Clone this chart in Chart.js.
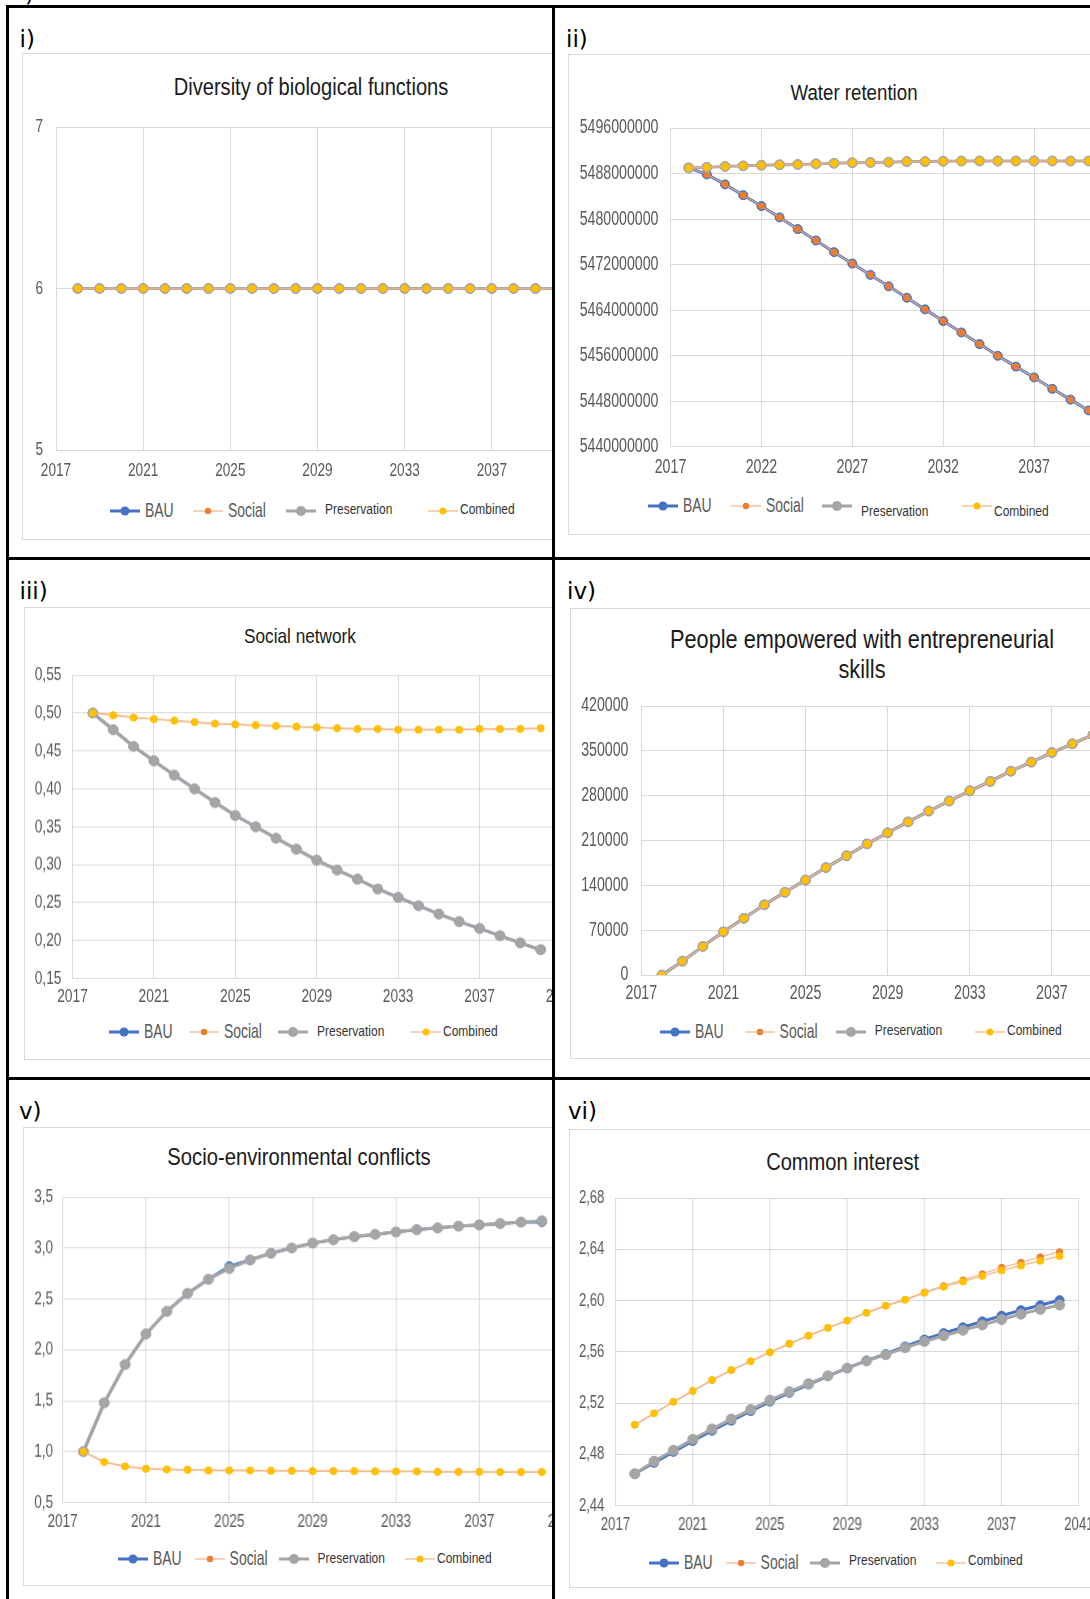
<!DOCTYPE html>
<html>
<head>
<meta charset="utf-8">
<script src="https://cdn.jsdelivr.net/npm/chart.js@4.4.0/dist/chart.umd.min.js"></script>
<style>
html, body { margin: 0; padding: 0; background: #fff; }
body { width: 1090px; height: 1599px; overflow: hidden; position: relative; }
#frame { position: absolute; left: 6px; top: 5px; width: 1200px; height: 1700px; background: #000; }
.cell { position: absolute; background: #fff; overflow: hidden; }
.box { position: absolute; border: 1px solid #d9d9d9; background: #fff; box-sizing: border-box; }
.lab { position: absolute; font-family: "DejaVu Sans", sans-serif; font-size: 23px; line-height: 23px; color: #000; white-space: nowrap; }
.ttl { position: absolute; white-space: nowrap; color: #1a1a1a; text-align: center; width: 1000px; }
.cw { position: absolute; }
.lg { position: absolute; white-space: nowrap; }
</style>
</head>
<body>
<div class="lab" style="left:25px;top:-17.5px;">)</div>
<div id="frame"></div>
<script>
var years = [2018, 2019, 2020, 2021, 2022, 2023, 2024, 2025, 2026, 2027, 2028, 2029,
             2030, 2031, 2032, 2033, 2034, 2035, 2036, 2037, 2038, 2039, 2040];
var seriesNames = ["BAU", "Social", "Preservation", "Combined"];

// i) Diversity of biological functions
var divBau    = [6, 6, 6, 6, 6, 6, 6, 6, 6, 6, 6, 6, 6, 6, 6, 6, 6, 6, 6, 6, 6, 6, 6];
var divSocial = [6, 6, 6, 6, 6, 6, 6, 6, 6, 6, 6, 6, 6, 6, 6, 6, 6, 6, 6, 6, 6, 6, 6];
var divPres   = [6, 6, 6, 6, 6, 6, 6, 6, 6, 6, 6, 6, 6, 6, 6, 6, 6, 6, 6, 6, 6, 6, 6];
var divComb   = [6, 6, 6, 6, 6, 6, 6, 6, 6, 6, 6, 6, 6, 6, 6, 6, 6, 6, 6, 6, 6, 6, 6];

// ii) Water retention
var waterBau = [5489000000, 5487850000, 5486100000, 5484200000, 5482300000, 5480300000, 5478250000,
  5476250000, 5474200000, 5472200000, 5470200000, 5468200000, 5466200000, 5464150000, 5462100000,
  5460100000, 5458050000, 5456000000, 5454100000, 5452200000, 5450200000, 5448300000, 5446400000];
var waterSocial = [5489000000, 5487850000, 5486100000, 5484200000, 5482300000, 5480300000, 5478250000,
  5476250000, 5474200000, 5472200000, 5470200000, 5468200000, 5466200000, 5464150000, 5462100000,
  5460100000, 5458050000, 5456000000, 5454100000, 5452200000, 5450200000, 5448300000, 5446400000];
var waterPres = [5489000000, 5489100000, 5489250000, 5489350000, 5489450000, 5489550000, 5489600000,
  5489700000, 5489800000, 5489900000, 5489950000, 5490000000, 5490100000, 5490100000, 5490150000,
  5490200000, 5490200000, 5490200000, 5490200000, 5490200000, 5490200000, 5490200000, 5490200000];
var waterComb = [5489000000, 5489100000, 5489250000, 5489350000, 5489450000, 5489550000, 5489600000,
  5489700000, 5489800000, 5489900000, 5489950000, 5490000000, 5490100000, 5490100000, 5490150000,
  5490200000, 5490200000, 5490200000, 5490200000, 5490200000, 5490200000, 5490200000, 5490200000];

// iii) Social network
var netBau    = [0.500, 0.478, 0.456, 0.437, 0.418, 0.400, 0.382, 0.365, 0.350, 0.335, 0.3205, 0.306,
                 0.293, 0.281, 0.268, 0.257, 0.246, 0.235, 0.225, 0.216, 0.2065, 0.197, 0.188];
var netSocial = [0.500, 0.497, 0.494, 0.492, 0.490, 0.488, 0.486, 0.485, 0.484, 0.483, 0.482, 0.481,
                 0.480, 0.479, 0.479, 0.478, 0.478, 0.478, 0.478, 0.479, 0.479, 0.479, 0.480];
var netPres   = [0.500, 0.478, 0.456, 0.437, 0.418, 0.400, 0.382, 0.365, 0.350, 0.335, 0.3205, 0.306,
                 0.293, 0.281, 0.268, 0.257, 0.246, 0.235, 0.225, 0.216, 0.2065, 0.197, 0.188];
var netComb   = [0.500, 0.497, 0.494, 0.492, 0.490, 0.488, 0.486, 0.485, 0.484, 0.483, 0.482, 0.481,
                 0.480, 0.479, 0.479, 0.478, 0.478, 0.478, 0.478, 0.479, 0.479, 0.479, 0.480];

// iv) People empowered with entrepreneurial skills
var empBau    = [0, 21700, 44800, 67500, 88600, 109700, 129200, 148300, 167800, 186200, 204800, 222100,
                 239100, 256000, 271700, 287600, 302300, 318200, 332400, 347300, 361000, 375000, 388000];
var empSocial = [0, 21700, 44800, 67500, 88600, 109700, 129200, 148300, 167800, 186200, 204800, 222100,
                 239100, 256000, 271700, 287600, 302300, 318200, 332400, 347300, 361000, 375000, 388000];
var empPres   = [0, 21700, 44800, 67500, 88600, 109700, 129200, 148300, 167800, 186200, 204800, 222100,
                 239100, 256000, 271700, 287600, 302300, 318200, 332400, 347300, 361000, 375000, 388000];
var empComb   = [0, 21700, 44800, 67500, 88600, 109700, 129200, 148300, 167800, 186200, 204800, 222100,
                 239100, 256000, 271700, 287600, 302300, 318200, 332400, 347300, 361000, 375000, 388000];

// v) Socio-environmental conflicts
var confBau    = [1.0, 1.48, 1.855, 2.155, 2.377, 2.554, 2.692, 2.82, 2.882, 2.948, 3.0, 3.048,
                  3.081, 3.111, 3.134, 3.157, 3.18, 3.197, 3.214, 3.227, 3.24, 3.254, 3.255];
var confSocial = [1.0, 0.898, 0.855, 0.832, 0.825, 0.822, 0.815, 0.815, 0.815, 0.812, 0.812, 0.809,
                  0.809, 0.809, 0.806, 0.806, 0.806, 0.802, 0.802, 0.802, 0.8, 0.8, 0.8];
var confPres   = [1.0, 1.48, 1.855, 2.155, 2.377, 2.554, 2.692, 2.799, 2.882, 2.948, 3.0, 3.048,
                  3.081, 3.111, 3.134, 3.157, 3.18, 3.197, 3.214, 3.227, 3.24, 3.254, 3.267];
var confComb   = [1.0, 0.898, 0.855, 0.832, 0.825, 0.822, 0.815, 0.815, 0.815, 0.812, 0.812, 0.809,
                  0.809, 0.809, 0.806, 0.806, 0.806, 0.802, 0.802, 0.802, 0.8, 0.8, 0.8];

// vi) Common interest
var intBau    = [2.4649, 2.4735, 2.482, 2.4905, 2.4985, 2.5063, 2.5138, 2.5212, 2.528, 2.5345, 2.541, 2.5473,
                 2.5532, 2.5584, 2.5642, 2.5696, 2.5746, 2.5792, 2.5838, 2.5882, 2.5925, 2.5963, 2.6003];
var intSocial = [2.5031, 2.512, 2.521, 2.5295, 2.538, 2.5458, 2.5526, 2.5597, 2.5663, 2.5726, 2.5787, 2.5844,
                 2.5905, 2.596, 2.6007, 2.6065, 2.6115, 2.616, 2.6208, 2.6258, 2.6298, 2.634, 2.638];
var intPres   = [2.4649, 2.4747, 2.4833, 2.4918, 2.4999, 2.5076, 2.515, 2.5223, 2.5289, 2.5352, 2.5413, 2.5473,
                 2.5529, 2.5578, 2.5632, 2.5681, 2.5726, 2.5768, 2.581, 2.5852, 2.5894, 2.5931, 2.5965];
var intComb   = [2.5031, 2.512, 2.521, 2.5295, 2.538, 2.5458, 2.5526, 2.5597, 2.5663, 2.5726, 2.5787, 2.5844,
                 2.5905, 2.596, 2.6007, 2.606, 2.6107, 2.6149, 2.6192, 2.6234, 2.6273, 2.631, 2.6347];

// does the narrow face exist here? if not fall back to regular, a bit smaller
var NARROW = (function() {
  var ctx = document.createElement("canvas").getContext("2d");
  ctx.font = "40px monospace";
  var a = ctx.measureText("Preservation 2017").width;
  ctx.font = '40px "Liberation Sans Narrow", monospace';
  return ctx.measureText("Preservation 2017").width !== a;
})();
var FAM = NARROW ? '"Liberation Sans Narrow", "Liberation Sans", Arial, sans-serif'
                 : '"Liberation Sans", Arial, sans-serif';
var K = NARROW ? 1 : 0.82;
// the source screenshots are stretched upwards a little
var SY_TITLE = NARROW ? 1 : 1.17, SY_BIG = NARROW ? 1.15 : 1.4, SY_SMALL = 1.15, SY_TICK = NARROW ? 1.15 : 1.38;

var styles = [
  { c: "#4472C4", lc: "#4472C4", w: 3, r: 4.5 },
  { c: "#ED7D31", lc: "rgba(244,177,131,0.8)", w: 1.5, r: 3.2 },
  { c: "#A5A5A5", lc: "#A5A5A5", w: 3, r: 5 },
  { c: "#FFC000", lc: "rgba(244,177,131,0.8)", w: 1.5, r: 3.5 }
];

var panels = [
  { lab: "i)", cell: [9, 8, 543, 549], box: [22, 53, 640, 487], labPos: [19.5, 27.5],
    title: ["Diversity of biological functions"], tSize: 24.5, tX: 311, tY: [87],
    plot: [56, 127, 579, 450], xs: [2017, 2041, 4], ys: [5, 7, 1, 0], tick: 16.6, yPad: 13, xPad: 21,
    legend: [110, 193, 286, 428], legY: 511, legY2: 509,
    data: [divBau, divSocial, divPres, divComb] },
  { lab: "ii)", cell: [555, 8, 535, 549], box: [568, 54, 640, 481], labPos: [566, 27.5],
    title: ["Water retention"], tSize: 22.8, tX: 854, tY: [93.6],
    plot: [670.5, 127.5, 1125, 446.4], xs: [2017, 2042, 5], ys: [5440000000, 5496000000, 8000000, 0], tick: 17.3, yPad: 12, xPad: 20.6,
    legend: [648, 731, 822, 962], legY: 506, legY2: 510.5,
    data: [waterBau, waterSocial, waterPres, waterComb] },
  { lab: "iii)", cell: [9, 560, 543, 517], box: [24, 607, 640, 453], labPos: [19.5, 580],
    title: ["Social network"], tSize: 21, tX: 300, tY: [636],
    plot: [72.5, 675, 561, 977.6], xs: [2017, 2041, 4], ys: [0.15, 0.55, 0.05, 2], tick: 16.8, yPad: 11, xPad: 18.5,
    legend: [109, 189, 278, 411], legY: 1031.7, legY2: 1031,
    data: [netBau, netSocial, netPres, netComb] },
  { lab: "iv)", cell: [555, 560, 535, 517], box: [570, 608, 640, 451], labPos: [567, 580],
    title: ["People empowered with entrepreneurial", "skills"], tSize: 26.5, tX: 862, tY: [639.6, 670],
    plot: [641.3, 706.2, 1134, 975.3], xs: [2017, 2041, 4], ys: [0, 420000, 70000, 0], tick: 17.3, yPad: 12.8, xPad: 19,
    legend: [660, 744.6, 835.8, 975], legY: 1031.7, legY2: 1030,
    data: [empBau, empSocial, empPres, empComb] },
  { lab: "v)", cell: [9, 1080, 543, 519], box: [23, 1127, 640, 459], labPos: [19, 1100],
    title: ["Socio-environmental conflicts"], tSize: 24.7, tX: 299, tY: [1157],
    plot: [62.5, 1197.2, 561.7, 1501.8], xs: [2017, 2041, 4], ys: [0.5, 3.5, 0.5, 1], tick: 16.5, yPad: 9.5, xPad: 19.5,
    legend: [118, 194.6, 278.6, 405], legY: 1559.2, legY2: 1558.2,
    data: [confBau, confSocial, confPres, confComb] },
  { lab: "vi)", cell: [555, 1080, 535, 519], box: [569, 1129, 640, 459], labPos: [568, 1100],
    title: ["Common interest"], tSize: 24.5, tX: 842.6, tY: [1161.8],
    plot: [615.4, 1197.5, 1077.9, 1505.2], xs: [2017, 2041, 4], ys: [2.44, 2.68, 0.04, 2], tick: 16, yPad: 11, xPad: 19.2,
    legend: [649, 725.6, 810, 936], legY: 1562.6, legY2: 1560,
    data: [intBau, intSocial, intPres, intComb] }
];

// tick labels drawn from the scales' own ticks, but vertically stretched like the source
var stretchTicks = {
  id: "stretchTicks",
  afterDraw: function(chart, args, o) {
    var ctx = chart.ctx;
    ["x", "y"].forEach(function(id) {
      var sc = chart.scales[id];
      sc.ticks.forEach(function(t, i) {
        var px = sc.getPixelForTick(i);
        ctx.save();
        ctx.fillStyle = "#595959";
        ctx.font = o.size + "px " + FAM;
        ctx.textBaseline = "middle";
        if (id === "x") {
          ctx.translate(px, sc.top + o.xGap);
          ctx.textAlign = "center";
        } else {
          ctx.translate(sc.right - o.yGap, px);
          ctx.textAlign = "right";
        }
        ctx.scale(1, SY_TICK);
        ctx.fillText(o.fmt[id](t.value), 0, 0);
        ctx.restore();
      });
    });
  }
};

function el(parent, cls, css, html) {
  var d = document.createElement("div");
  if (cls) d.className = cls;
  d.style.cssText = css;
  if (html != null) d.innerHTML = html;
  parent.appendChild(d);
  return d;
}

function textAt(parent, cls, x, capY, size, fam, txt, sy, extra) {
  // puts the middle of the capitals on capY
  return el(parent, cls, "left:" + x + "px;top:" + (capY - 0.49 * size) + "px;font-family:" + fam +
    ";font-size:" + size + "px;line-height:" + size + "px;transform:scaleY(" + sy + ");transform-origin:50% " +
    (0.49 * size) + "px;" + (extra || ""), txt);
}

function buildPanel(p) {
  var cx = p.cell[0], cy = p.cell[1];
  var cell = el(document.body, "cell", "left:" + cx + "px;top:" + cy + "px;width:" + p.cell[2] + "px;height:" + p.cell[3] + "px;");

  el(cell, "lab", "left:" + (p.labPos[0] - cx) + "px;top:" + (p.labPos[1] - cy) + "px;", p.lab);
  el(cell, "box", "left:" + (p.box[0] - cx) + "px;top:" + (p.box[1] - cy) + "px;width:" + p.box[2] + "px;height:" + p.box[3] + "px;");

  p.title.forEach(function(line, i) {
    textAt(cell, "ttl", p.tX - 500 - cx, p.tY[i] - cy, p.tSize * K, FAM, line, SY_TITLE);
  });

  // legend
  var gaps = [35, 35, 39, 32];
  seriesNames.forEach(function(name, i) {
    var s = styles[i];
    var x = p.legend[i] - cx, y = p.legY - cy;
    el(cell, "lg", "left:" + x + "px;top:" + (y - 7) + "px;width:32px;height:14px;",
      '<svg width="32" height="14"><line x1="0" y1="7" x2="30" y2="7" stroke="' + s.lc + '" stroke-width="' + s.w +
      '"/><circle cx="15" cy="7" r="' + s.r + '" fill="' + s.c + '"/></svg>');
    if (i < 2) {
      textAt(cell, "lg", x + gaps[i], y, 17 * K, FAM, name, SY_BIG, "color:#595959;");
    } else {
      textAt(cell, "lg", x + gaps[i], p.legY2 - cy, 12, '"Liberation Sans", Arial, sans-serif', name, SY_SMALL, "color:#333;");
    }
  });

  // canvas: plot area lands on p.plot
  var padT = 26, padR = 30, xH = 35;
  var cl = p.box[0] + 1, ct = p.plot[1] - padT;
  var w = p.plot[2] + padR - cl, h = p.plot[3] + xH - ct;
  var wrap = el(cell, "cw", "left:" + (cl - cx) + "px;top:" + (ct - cy) + "px;width:" + w + "px;height:" + h + "px;");
  var canvas = document.createElement("canvas");
  wrap.appendChild(canvas);

  var yW = p.plot[0] - cl;
  var dec = p.ys[3];

  new Chart(canvas.getContext("2d"), {
    type: "line",
    plugins: [stretchTicks],
    data: {
      datasets: p.data.map(function(vals, i) {
        var s = styles[i];
        return {
          label: seriesNames[i],
          data: years.map(function(yr, k) { return { x: yr, y: vals[k] }; }),
          borderColor: s.lc,
          borderWidth: s.w,
          pointBackgroundColor: s.c,
          pointBorderColor: s.c,
          pointBorderWidth: 1,
          pointRadius: s.r,
          tension: 0,
          order: 3 - i
        };
      })
    },
    options: {
      responsive: true,
      maintainAspectRatio: false,
      animation: false,
      events: [],
      layout: { padding: { left: 0, top: padT, right: padR, bottom: 0 } },
      plugins: {
        legend: { display: false },
        title: { display: false },
        tooltip: { enabled: false },
        stretchTicks: {
          size: p.tick * K,
          xGap: p.xPad,
          yGap: p.yPad,
          fmt: {
            x: function(v) { return String(v); },
            y: function(v) { return dec ? Number(v).toFixed(dec).replace(".", ",") : String(Math.round(v)); }
          }
        }
      },
      scales: {
        x: {
          type: "linear",
          min: p.xs[0],
          max: p.xs[1],
          grid: { color: "#d9d9d9", drawTicks: false },
          border: { color: "#d9d9d9" },
          ticks: { stepSize: p.xs[2], display: false, autoSkip: false },
          afterFit: function(s) { s.height = xH; s.paddingLeft = 0; s.paddingRight = 0; }
        },
        y: {
          min: p.ys[0],
          max: p.ys[1],
          grid: { color: "#d9d9d9", drawTicks: false },
          border: { color: "#d9d9d9" },
          ticks: { stepSize: p.ys[2], display: false },
          afterFit: function(s) { s.width = yW; s.paddingTop = 0; s.paddingBottom = 0; }
        }
      }
    }
  });
}

panels.forEach(buildPanel);
</script>
</body>
</html>
